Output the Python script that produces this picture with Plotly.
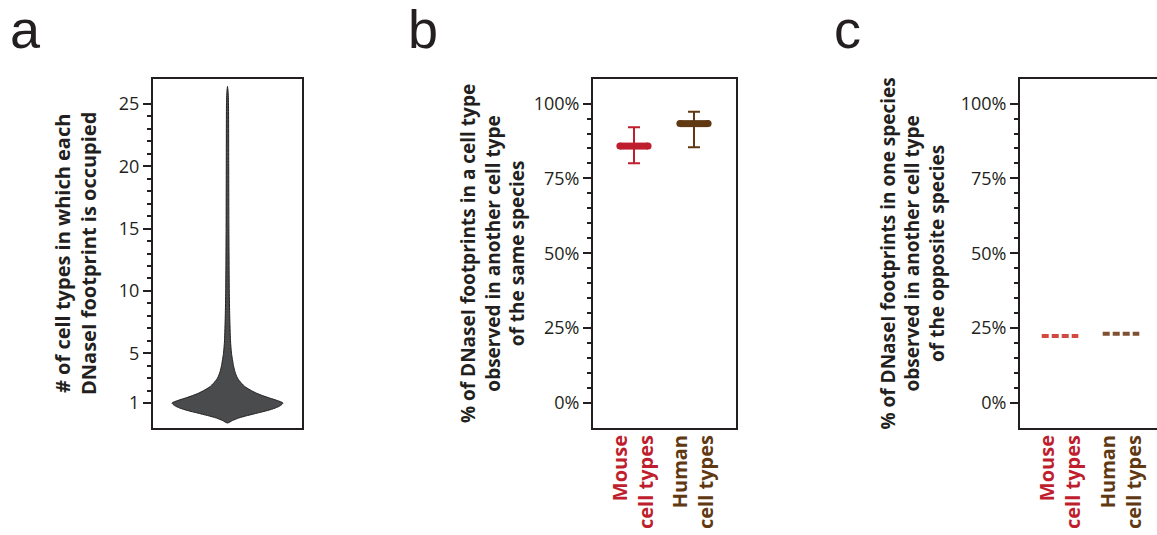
import plotly.graph_objects as go

# ---------------- data ----------------
# Panel a: violin outline (occupancy level -> relative density width)
violin_levels = [-0.6, -0.4, -0.2, 0.0, 0.2, 0.4, 0.6, 0.8, 1.0, 1.2, 1.4, 1.6, 1.8, 2.0,
                 2.3, 2.6, 3.0, 3.5, 4.0, 5.0, 6.0, 8.0, 10.0, 15.0, 20.0, 25.0, 26.0, 26.4]
violin_density = [0.0, 0.09, 0.2, 0.36, 0.54, 0.72, 0.86, 0.955, 1.0, 0.9, 0.76, 0.63, 0.52, 0.43,
                  0.32, 0.25, 0.18, 0.135, 0.108, 0.072, 0.054, 0.04, 0.032, 0.025, 0.022, 0.018, 0.011, 0.0]
a_major_ticks = [1, 5, 10, 15, 20, 25]
a_minor_ticks = [2, 3, 4, 6, 7, 8, 9, 11, 12, 13, 14, 16, 17, 18, 19, 21, 22, 23, 24]

# Panels b and c
categories = ["Mouse", "Human"]
category_line1 = ["Mouse", "Human"]
category_line2 = ["cell types", "cell types"]
same_species_pct = [85.8, 93.3]
same_species_upper = [92.1, 97.3]
same_species_lower = [80.1, 85.4]
cross_species_pct = [22.4, 23.1]
pct_ticks = [0, 25, 50, 75, 100]
pct_ticklabels = ["0%", "25%", "50%", "75%", "100%"]
pct_minor_ticks = [5, 10, 15, 20, 30, 35, 40, 45, 55, 60, 65, 70, 80, 85, 90, 95]

b_colors = ["#be1e2d", "#603913"]
c_colors = ["#d1493f", "#7f5130"]
label_colors = ["#be1e2d", "#603913"]

TXT = "#231f20"
W, H = 1157, 535

fig = go.Figure()

# ---------------- panel a ----------------
xs = list(violin_density) + [-d for d in reversed(violin_density)]
ys = list(violin_levels) + list(reversed(violin_levels))
fig.add_trace(go.Scatter(x=xs, y=ys, mode="lines", fill="toself",
                         fillcolor="#4a4b4d", line=dict(color=TXT, width=1, shape="spline", smoothing=0.6),
                         xaxis="x", yaxis="y", showlegend=False, hoverinfo="skip"))

# ---------------- panel b ----------------
hw_b = 0.235
for i, cat in enumerate(categories):
    fig.add_trace(go.Scatter(x=[i - hw_b, i + hw_b], y=[same_species_pct[i]] * 2,
                             mode="lines+markers", line=dict(color=b_colors[i], width=7),
                             marker=dict(size=7, color=b_colors[i]),
                             xaxis="x2", yaxis="y2", showlegend=False))
    fig.add_trace(go.Scatter(x=[i], y=[same_species_pct[i]], mode="markers",
                             marker=dict(size=1, color=b_colors[i]),
                             error_y=dict(type="data", symmetric=False,
                                          array=[same_species_upper[i] - same_species_pct[i]],
                                          arrayminus=[same_species_pct[i] - same_species_lower[i]],
                                          color=b_colors[i], thickness=2, width=6),
                             xaxis="x2", yaxis="y2", showlegend=False))

# ---------------- panel c ----------------
hw_c = 0.30
for i, cat in enumerate(categories):
    fig.add_trace(go.Scatter(x=[i - hw_c, i + hw_c], y=[cross_species_pct[i]] * 2,
                             mode="lines", line=dict(color=c_colors[i], width=4, dash="7px,3px"),
                             xaxis="x3", yaxis="y3", showlegend=False))

ticktext = [
    f'<span style="color:{label_colors[i]}"><b>{category_line1[i]}</b></span><br>'
    f'<span style="color:{label_colors[i]}"><b>{category_line2[i]}</b></span>'
    for i in range(len(categories))
]

def px_x(p):
    return p / W

def px_y(p):
    return 1 - p / H

ydom = [px_y(428), px_y(79)]

yax_common = dict(showline=True, linecolor=TXT, linewidth=2, ticks="outside", ticklen=8,
                  tickwidth=2, tickcolor=TXT, showgrid=False, zeroline=False, automargin=False,
                  tickfont=dict(size=18, color=TXT, family="Open Sans"), domain=ydom)

fig.update_layout(
    width=W, height=H, margin=dict(l=0, r=0, t=0, b=0, autoexpand=False),
    paper_bgcolor="white", plot_bgcolor="white",
    font=dict(family="Open Sans", color=TXT),
    xaxis=dict(showline=True, linecolor=TXT, linewidth=2, mirror=True, showgrid=False,
               zeroline=False, showticklabels=False, ticks="", range=[-1.342, 1.342],
               automargin=False, domain=[px_x(153), px_x(302)], anchor="y"),
    yaxis=dict(**yax_common, mirror=True, range=[-1.0, 27.0], tickmode="array",
               tickvals=a_major_ticks,
               minor=dict(tickmode="array", tickvals=a_minor_ticks, ticks="outside",
                          ticklen=4, tickwidth=2, tickcolor=TXT), anchor="x"),
    xaxis2=dict(showline=True, linecolor=TXT, linewidth=2, mirror=True, showgrid=False,
                zeroline=False, ticks="", range=[-0.683, 1.7], tickmode="array",
                tickvals=[0, 1], ticktext=ticktext, tickangle=-90, automargin=False,
                ticklabelstandoff=-3,
                tickfont=dict(size=20, family="Open Sans"),
                domain=[px_x(593), px_x(736)], anchor="y2"),
    yaxis2=dict(**yax_common, mirror=True, range=[-8.35, 108.2], tickmode="array",
                tickvals=pct_ticks, ticktext=pct_ticklabels,
                minor=dict(tickmode="array", tickvals=pct_minor_ticks, ticks="outside",
                           ticklen=4, tickwidth=2, tickcolor=TXT), anchor="x2"),
    xaxis3=dict(showline=True, linecolor=TXT, linewidth=2, mirror=True, showgrid=False,
                zeroline=False, ticks="", range=[-0.656, 1.59], tickmode="array",
                tickvals=[0, 1], ticktext=ticktext, tickangle=-90, automargin=False,
                ticklabelstandoff=-3,
                tickfont=dict(size=20, family="Open Sans"),
                domain=[px_x(1020), 1.0], anchor="y3"),
    yaxis3=dict(**yax_common, mirror=False, range=[-8.35, 108.2], tickmode="array",
                tickvals=pct_ticks, ticktext=pct_ticklabels,
                minor=dict(tickmode="array", tickvals=pct_minor_ticks, ticks="outside",
                           ticklen=4, tickwidth=2, tickcolor=TXT), anchor="x3"),
)

ymid = px_y(253.5)
titles = [
    (75.5, 20, "<b># of cell types in which each</b><br><b>DNaseI footprint is occupied</b>"),
    (492.5, 19, "<b>% of DNaseI footprints in a cell type</b><br><b>observed in another cell type</b>"
                "<br><b>of the same species</b>"),
    (912, 19, "<b>% of DNaseI footprints in one species</b><br><b>observed in another cell type</b>"
              "<br><b>of the opposite species</b>"),
]
for xc, fs, txt in titles:
    fig.add_annotation(x=px_x(xc), y=ymid, xref="paper", yref="paper", text=txt,
                       textangle=-90, showarrow=False, xanchor="center", yanchor="middle",
                       font=dict(size=fs, color=TXT, family="Open Sans"))

for lx, letter in [(8, "a"), (406, "b"), (832, "c")]:
    fig.add_annotation(x=px_x(lx), y=px_y(61), xref="paper", yref="paper", text=letter,
                       showarrow=False, xanchor="left", yanchor="bottom",
                       font=dict(size=54, color=TXT, family="Liberation Sans"))

fig.write_html("out.html", config={"displayModeBar": False},
               post_script="document.body.style.margin='0px';document.body.style.overflow='hidden';")
